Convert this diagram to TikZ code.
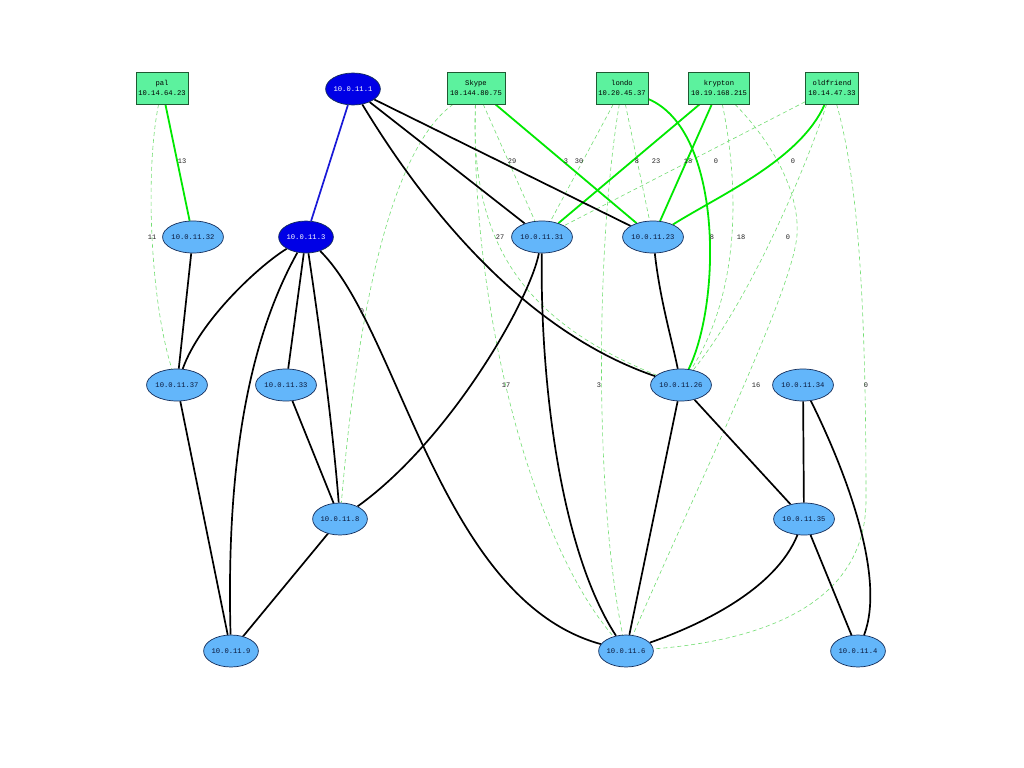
\documentclass[tikz,border=0pt]{standalone}
\usepackage{fontspec}
\setmonofont{Liberation Mono}
\usetikzlibrary{shapes.geometric}
\pgfdeclarelayer{bg}
\pgfdeclarelayer{edges}
\pgfsetlayers{bg,edges,main}
\definecolor{hostfill}{RGB}{92,242,158}
\definecolor{hostline}{RGB}{30,90,50}
\definecolor{ipfill}{RGB}{99,182,250}
\definecolor{ipline}{RGB}{20,45,90}
\definecolor{ipdark}{RGB}{0,0,230}
\definecolor{iptext}{RGB}{10,25,60}
\definecolor{gsolid}{RGB}{0,232,0}
\definecolor{gdash}{RGB}{115,222,115}
\definecolor{bwire}{RGB}{25,25,215}
\definecolor{lblgray}{RGB}{35,35,35}
\begin{document}
\begin{tikzpicture}[x=1bp,y=-1bp,
  hostbox/.style={rectangle, draw=hostline, fill=hostfill, line width=0.7bp, minimum height=32bp, inner sep=1bp, align=center, font=\ttfamily\fontsize{7.2}{9.5}\selectfont},
  ipnode/.style={ellipse, draw=ipline, fill=ipfill, line width=0.7bp, minimum width=54bp, minimum height=32bp, inner sep=0pt, text=iptext, font=\ttfamily\fontsize{7.2}{8}\selectfont},
  ipdarknode/.style={ipnode, fill=ipdark, text=white},
  wire/.style={line width=1.7bp, black},
  gwire/.style={line width=1.8bp, gsolid},
  bluewire/.style={line width=1.7bp, bwire},
  dwire/.style={line width=0.6bp, gdash, dash pattern=on 4bp off 3bp},
  lbl/.style={inner sep=0pt, text=lblgray, font=\ttfamily\fontsize{7}{7}\selectfont}]
\begin{pgfonlayer}{bg}
\fill[white] (0,0) rectangle (1024,768);
\end{pgfonlayer}
\useasboundingbox (0,0) rectangle (1024,768);

% nodes
\node[hostbox, minimum width=52bp] (pal) at (162,88) {pal\\10.14.64.23};
\node[ipdarknode] (n1) at (353,89) {10.0.11.1};
\node[hostbox, minimum width=58bp] (skype) at (476,88) {Skype\\10.144.80.75};
\node[hostbox, minimum width=52bp] (londo) at (622,88) {londo\\10.20.45.37};
\node[hostbox, minimum width=61bp] (krypton) at (719,88) {krypton\\10.19.168.215};
\node[hostbox, minimum width=53bp] (oldfriend) at (832,88) {oldfriend\\10.14.47.33};

\node[ipnode] (n32) at (193,237) {10.0.11.32};
\node[ipdarknode, minimum width=52bp] (n3) at (306,237) {10.0.11.3};
\node[ipnode] (n31) at (542,237) {10.0.11.31};
\node[ipnode] (n23) at (653,237) {10.0.11.23};

\node[ipnode] (n37) at (177,385) {10.0.11.37};
\node[ipnode] (n33) at (286,385) {10.0.11.33};
\node[ipnode] (n26) at (681,385) {10.0.11.26};
\node[ipnode] (n34) at (803,385) {10.0.11.34};

\node[ipnode] (n8) at (340,519) {10.0.11.8};
\node[ipnode] (n35) at (804,519) {10.0.11.35};

\node[ipnode, minimum width=52bp] (n9) at (231,651) {10.0.11.9};
\node[ipnode, minimum width=52bp] (n6) at (626,651) {10.0.11.6};
\node[ipnode, minimum width=52bp] (n4) at (858,651) {10.0.11.4};

\coordinate (k1) at (797,235);
\coordinate (o1) at (866,500);

\begin{pgfonlayer}{edges}
% dashed green edges
\draw[dwire] (pal) .. controls (145,170) and (150,300) .. (n37);
\draw[dwire] (skype) .. controls (375,160) and (350,400) .. (n8);
\draw[dwire] (skype) -- (n31);
\draw[dwire] (skype) .. controls (470,240) and (520,320) .. (n26);
\draw[dwire] (skype) .. controls (470,300) and (530,540) .. (n6);
\draw[dwire] (londo) -- (n31);
\draw[dwire] (londo) -- (n23);
\draw[dwire] (londo) .. controls (595,250) and (595,500) .. (n6);
\draw[dwire] (krypton) .. controls (742,200) and (736,300) .. (n26);
\draw[dwire] (krypton) .. controls (770,140) and (800,190) .. (k1) .. controls (793,290) and (700,480) .. (n6);
\draw[dwire] (oldfriend) -- (n31);
\draw[dwire] (oldfriend) .. controls (805,170) and (750,300) .. (n26);
\draw[dwire] (oldfriend) .. controls (858,180) and (866,300) .. (o1) .. controls (866,600) and (770,640) .. (n6);

% solid green edges
\draw[gwire] (pal) -- (n32);
\draw[gwire] (skype) -- (n23);
\draw[gwire] (londo) .. controls (722,130) and (722,300) .. (n26);
\draw[gwire] (krypton) -- (n31);
\draw[gwire] (krypton) -- (n23);
\draw[gwire] (oldfriend) .. controls (800,160) and (720,195) .. (n23);

% blue edge
\draw[bluewire] (n1) -- (n3);

% black edges
\draw[wire] (n1) -- (n31);
\draw[wire] (n1) -- (n23);
\draw[wire] (n1) .. controls (420,200) and (520,330) .. (n26);
\draw[wire] (n3) .. controls (260,265) and (200,320) .. (n37);
\draw[wire] (n3) .. controls (260,320) and (225,430) .. (n9);
\draw[wire] (n3) -- (n33);
\draw[wire] (n3) .. controls (320,330) and (333,430) .. (n8);
\draw[wire] (n3) .. controls (400,330) and (440,600) .. (n6);
\draw[wire] (n32) -- (n37);
\draw[wire] (n37) -- (n9);
\draw[wire] (n33) -- (n8);
\draw[wire] (n8) -- (n9);
\draw[wire] (n8) .. controls (450,440) and (530,300) .. (n31);
\draw[wire] (n31) .. controls (540,380) and (560,550) .. (n6);
\draw[wire] (n23) .. controls (660,300) and (672,340) .. (n26);
\draw[wire] (n26) -- (n6);
\draw[wire] (n26) -- (n35);
\draw[wire] (n34) -- (n35);
\draw[wire] (n34) .. controls (850,480) and (885,580) .. (n4);
\draw[wire] (n35) -- (n4);
\draw[wire] (n35) .. controls (775,590) and (700,625) .. (n6);
\end{pgfonlayer}

% edge labels
\node[lbl] (l1) at (182,161) {13};
\node[lbl] (l2) at (512,161) {29};
\node[lbl] (l3) at (566,161) {3};
\node[lbl] (l4) at (579,161) {30};
\node[lbl] (l5) at (637,161) {8};
\node[lbl] (l6) at (656,161) {23};
\node[lbl] (l7) at (688,161) {18};
\node[lbl] (l8) at (716,161) {0};
\node[lbl] (l9) at (793,161) {0};
\node[lbl] (l10) at (152,237) {11};
\node[lbl] (l11) at (500,237) {27};
\node[lbl] (l12) at (712,237) {8};
\node[lbl] (l13) at (741,237) {18};
\node[lbl] (l14) at (788,237) {0};
\node[lbl] (l15) at (362,311) {0};
\node[lbl] (l16) at (506,385) {17};
\node[lbl] (l17) at (599,385) {3};
\node[lbl] (l18) at (756,385) {16};
\node[lbl] (l19) at (866,385) {0};
\end{tikzpicture}
\end{document}
